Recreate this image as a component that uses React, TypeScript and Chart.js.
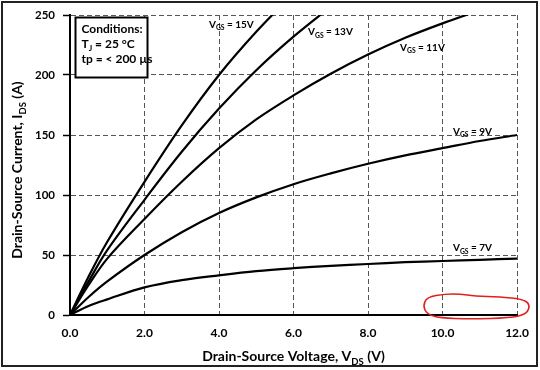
import React, { useEffect, useRef } from 'react';
import { Chart, registerables } from 'chart.js';

Chart.register(...registerables);

// ---- data ----
const vds = [0, 0.5, 1, 2, 3, 4, 5, 6, 7, 8, 9, 10, 11, 12];
const ids7 = [0, 7.5, 13, 23, 29, 33, 36.5, 39, 41, 42.5, 44, 45, 46, 47];
const ids9 = [0, 15, 28, 50, 69, 85, 98, 109, 118, 126, 133, 139, 145, 150];
const ids11 = [0, 25, 47, 80, 111, 139, 163, 183, 201, 217, 231, 243, 254];
const ids13 = [0, 28, 54, 96, 136, 172, 204, 232, 257];
const ids15 = [0, 32, 61, 111, 158, 200, 236, 268];
const seriesNames = ['7V', '9V', '11V', '13V', '15V'];
const xTicks = [0, 2, 4, 6, 8, 10, 12];
const yTicks = [0, 50, 100, 150, 200, 250];
const conditionLines = ['Conditions:', 'T|J| = 25 °C', 'tp = < 200 µs'];

// label anchors (data space: V, I)
const labelAnchorV = [10.28, 10.28, 8.86, 6.39, 3.73];
const labelAnchorI = [56, 153, 223, 236, 242.5];

// hand-drawn highlight loop (data space)
const loopV = [9.58, 10.07, 10.47, 10.87, 11.55, 12.13, 12.35, 12.27, 11.81, 10.74, 9.93, 9.58, 9.48];
const loopI = [15, 17.5, 17.5, 15.8, 15, 13.3, 9.2, 0.8, -2.5, -3.3, -2.5, 0.8, 7.5];

const FONT = 'Lato, "Open Sans", sans-serif';

type Part = [string, boolean];

function drawParts(ctx: CanvasRenderingContext2D, parts: Part[], x: number, y: number, size: number, align: 'left' | 'center') {
  const subSize = size * 0.68;
  let total = 0;
  const widths = parts.map(([t, sub]) => {
    ctx.font = `bold ${sub ? subSize : size}px ${FONT}`;
    const w = ctx.measureText(t).width;
    total += w;
    return w;
  });
  let cx = align === 'center' ? x - total / 2 : x;
  ctx.textAlign = 'left';
  ctx.textBaseline = 'alphabetic';
  parts.forEach(([t, sub], k) => {
    ctx.font = `bold ${sub ? subSize : size}px ${FONT}`;
    ctx.fillText(t, cx, sub ? y + size * 0.25 : y);
    cx += widths[k];
  });
}

function parseSub(s: string): Part[] {
  const out: Part[] = [];
  const segs = s.split('|');
  segs.forEach((seg, k) => { if (seg) out.push([seg, k % 2 === 1]); });
  return out;
}

const annotations = {
  id: 'annotations',
  afterDraw(chart: any) {
    const ctx: CanvasRenderingContext2D = chart.ctx;
    const xs = chart.scales.x;
    const ys = chart.scales.y;
    const area = chart.chartArea;
    ctx.save();
    ctx.fillStyle = '#000';

    // curve labels
    seriesNames.forEach((n, k) => {
      const px = xs.getPixelForValue(labelAnchorV[k]);
      const py = ys.getPixelForValue(labelAnchorI[k]);
      drawParts(ctx, [['V', false], ['GS', true], [' = ' + n, false]], px, py + 3.5, 10, 'left');
    });

    // conditions box
    const bx = area.left + 5.5;
    const by = area.top + 2.5;
    ctx.fillStyle = '#fff';
    ctx.fillRect(bx, by, 72, 60);
    ctx.strokeStyle = '#000';
    ctx.lineWidth = 2;
    ctx.strokeRect(bx, by, 72, 60);
    ctx.fillStyle = '#000';
    conditionLines.forEach((ln, k) => {
      drawParts(ctx, parseSub(ln), bx + 6, by + 15 + k * 15, 12, 'left');
    });

    // axis titles
    const cxm = (area.left + area.right) / 2;
    drawParts(ctx, [['Drain-Source Voltage, V', false], ['DS', true], [' (V)', false]], cxm, 361, 14, 'center');
    ctx.save();
    ctx.translate(22, (area.top + area.bottom) / 2 + 5);
    ctx.rotate(-Math.PI / 2);
    drawParts(ctx, [['Drain-Source Current, I', false], ['DS', true], [' (A)', false]], 0, 0, 14, 'center');
    ctx.restore();

    // highlight loop
    const pts = loopV.map((v, k) => [xs.getPixelForValue(v), ys.getPixelForValue(loopI[k])]);
    ctx.strokeStyle = '#e0201c';
    ctx.lineWidth = 1.6;
    ctx.beginPath();
    const n = pts.length;
    const mid = (a: number[], b: number[]) => [(a[0] + b[0]) / 2, (a[1] + b[1]) / 2];
    const m0 = mid(pts[n - 1], pts[0]);
    ctx.moveTo(m0[0], m0[1]);
    for (let k = 0; k < n; k++) {
      const p = pts[k];
      const m = mid(p, pts[(k + 1) % n]);
      ctx.quadraticCurveTo(p[0], p[1], m[0], m[1]);
    }
    ctx.closePath();
    ctx.stroke();

    // outer frame
    ctx.strokeStyle = '#222';
    ctx.lineWidth = 2;
    ctx.strokeRect(2, 2, 535, 364);
    ctx.restore();
  },
};

const allSeries = [ids7, ids9, ids11, ids13, ids15];

export default function App() {
  const ref = useRef<HTMLCanvasElement>(null);
  useEffect(() => {
    if (!ref.current) return;
    const chart = new Chart(ref.current, {
      type: 'line',
      data: {
        datasets: allSeries.map((s, k) => ({
          label: 'VGS = ' + seriesNames[k],
          data: s.map((v, i) => ({ x: vds[i], y: v })),
          borderColor: '#000',
          borderWidth: 2.2,
          pointRadius: 0,
          fill: false,
          tension: 0.35,
          clip: 0,
        })),
      },
      options: {
        responsive: false,
        animation: false,
        events: [],
        layout: { padding: { left: 0, top: 15, right: 23, bottom: 0 } },
        plugins: { legend: { display: false }, tooltip: { enabled: false }, title: { display: false } },
        scales: {
          x: {
            type: 'linear',
            min: 0,
            max: 12,
            afterBuildTicks: (s: any) => { s.ticks = xTicks.map((v) => ({ value: v })); },
            afterFit: (s: any) => { s.height = 55; },
            ticks: {
              callback: (v: any) => Number(v).toFixed(1),
              color: '#000',
              font: { family: FONT, size: 12, weight: 'bold' },
              padding: 11,
              maxRotation: 0,
            },
            grid: { color: '#555', lineWidth: 1, drawTicks: false },
            border: { display: true, color: '#000', width: 2, dash: [5, 3] },
          },
          y: {
            type: 'linear',
            min: 0,
            max: 250,
            afterBuildTicks: (s: any) => { s.ticks = yTicks.map((v) => ({ value: v })); },
            afterFit: (s: any) => { s.width = 70; },
            ticks: {
              color: '#000',
              font: { family: FONT, size: 11.5, weight: 'bold' },
              padding: 8,
            },
            grid: { color: '#555', lineWidth: 1, drawTicks: true, tickLength: 7, tickColor: '#000', tickWidth: 1.5 },
            border: { display: true, color: '#000', width: 2, dash: [5, 3] },
          },
        },
      },
      plugins: [annotations],
    } as any);
    return () => chart.destroy();
  }, []);
  return (
    <div style={{ position: 'absolute', left: 0, top: 0, width: 540, height: 370, background: '#fff' }}>
      <canvas ref={ref} width={540} height={370} style={{ display: 'block' }} />
    </div>
  );
}
